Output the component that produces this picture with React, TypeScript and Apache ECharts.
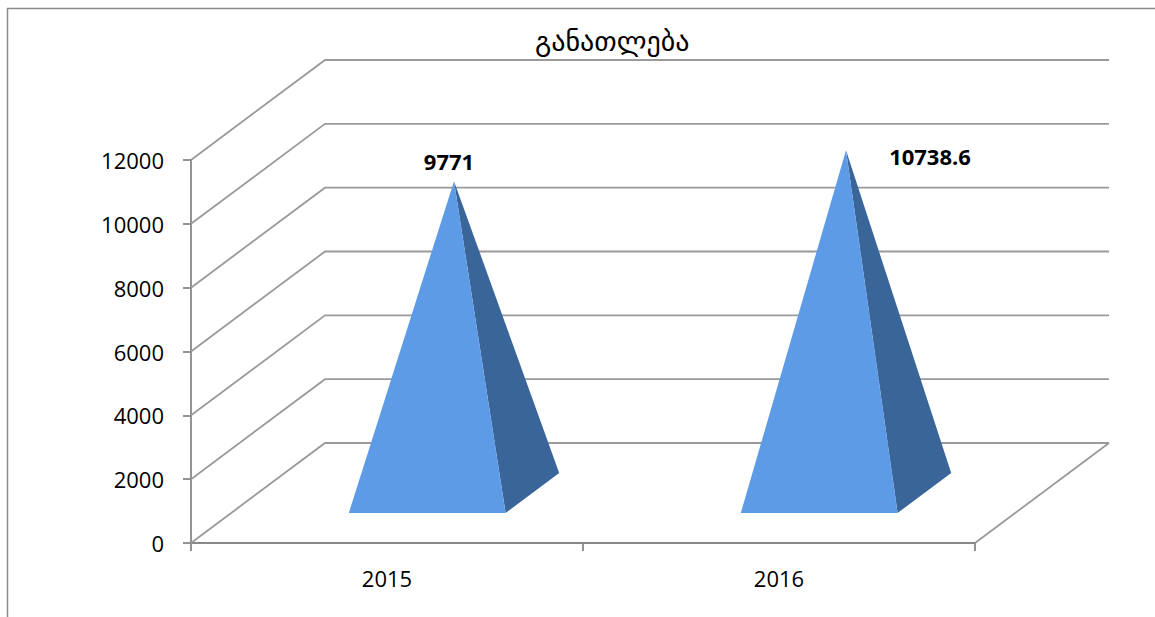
import React, { useEffect, useRef } from "react";
import * as echarts from "echarts";

const titleText = "განათლება";
const categories = ["2015", "2016"];
const values = [9771, 10738.6];
const valueLabels = ["9771", "10738.6"];
const yTicks = [0, 2000, 4000, 6000, 8000, 10000, 12000];

// styling constants (not data)
const DX = 134;
const DY = -100;
const LABEL_OFFSETS = [
  [-5, -20],
  [84, 6],
];
const GRID_COLOR = "#9a9a9a";
const AXIS_COLOR = "#888888";
const FRONT_COLOR = "#5E9BE7";
const SIDE_COLOR = "#3A6599";

export default function App() {
  const ref = useRef<HTMLDivElement>(null);
  useEffect(() => {
    if (!ref.current) return;
    const chart = echarts.init(ref.current, null, { renderer: "svg" });
    const option: any = {
      animation: false,
      backgroundColor: "#ffffff",
      title: {
        text: titleText,
        left: 530,
        top: 22,
        textStyle: {
          fontFamily: "DejaVu Sans",
          fontSize: 28,
          fontWeight: "normal",
          color: "#000",
        },
      },
      graphic: [
        {
          type: "rect",
          shape: { x: 7.5, y: 8.5, width: 1160, height: 640 },
          style: { fill: "none", stroke: "#8a8a8a", lineWidth: 1.5 },
          silent: true,
          z: 0,
        },
      ],
      grid: { left: 191, right: 180, top: 160, bottom: 74 },
      xAxis: {
        type: "category",
        data: categories,
        boundaryGap: true,
        axisLine: { show: true, lineStyle: { color: AXIS_COLOR, width: 1.8 } },
        axisTick: { show: true, length: 8, lineStyle: { color: AXIS_COLOR, width: 1.8 } },
        axisLabel: {
          margin: 24,
          fontFamily: "Open Sans",
          fontSize: 22,
          color: "#000",
        },
        splitLine: { show: false },
      },
      yAxis: {
        type: "value",
        min: 0,
        max: 12000,
        interval: 2000,
        axisLine: { show: true, lineStyle: { color: AXIS_COLOR, width: 1.8 } },
        axisTick: { show: true, length: 8, lineStyle: { color: AXIS_COLOR, width: 1.8 } },
        axisLabel: {
          margin: 27,
          fontFamily: "Open Sans",
          fontSize: 22,
          color: "#000",
          formatter: (v: number) => String(v),
        },
        splitLine: { show: false },
      },
      series: [
        {
          type: "custom",
          clip: false,
          silent: true,
          z: 1,
          data: yTicks.map((v) => [0, v]),
          renderItem: (params: any, api: any) => {
            const cs = params.coordSys;
            const v = api.value(1);
            const y = api.coord([0, v])[1];
            const x0 = cs.x;
            const x1 = cs.x + cs.width;
            const children: any[] = [
              {
                type: "polyline",
                shape: {
                  points: [
                    [x0, y],
                    [x0 + DX, y + DY],
                    [x1 + DX, y + DY],
                  ],
                },
                style: { stroke: GRID_COLOR, lineWidth: 1.8, fill: "none" },
              },
            ];
            if (v === 0) {
              children.push({
                type: "line",
                shape: { x1: x1, y1: y, x2: x1 + DX, y2: y + DY },
                style: { stroke: GRID_COLOR, lineWidth: 1.8 },
              });
            }
            return { type: "group", children };
          },
        },
        {
          type: "custom",
          clip: false,
          silent: true,
          z: 5,
          data: values.map((v, i) => [i, v]),
          renderItem: (params: any, api: any) => {
            const idx = api.value(0);
            const v = api.value(1);
            const base = api.coord([idx, 0]);
            const top = api.coord([idx, v]);
            const band = api.size([1, 0])[0];
            const w = band * 0.2;
            const f0 = 0.3;
            const f1 = 0.7;
            const cx = base[0];
            const y0 = base[1];
            const fl = [cx - w + f0 * DX, y0 + f0 * DY];
            const fr = [cx + w + f0 * DX, y0 + f0 * DY];
            const br = [cx + w + f1 * DX, y0 + f1 * DY];
            const apex = [cx + 0.5 * DX, top[1] + 0.5 * DY];
            const off = LABEL_OFFSETS[params.dataIndex] || [0, -20];
            return {
              type: "group",
              children: [
                {
                  type: "polygon",
                  shape: { points: [fr, br, apex] },
                  style: { fill: SIDE_COLOR },
                },
                {
                  type: "polygon",
                  shape: { points: [fl, fr, apex] },
                  style: { fill: FRONT_COLOR },
                },
                {
                  type: "text",
                  x: apex[0] + off[0],
                  y: apex[1] + off[1],
                  style: {
                    text: valueLabels[params.dataIndex],
                    fill: "#000",
                    fontFamily: "Open Sans",
                    fontWeight: "bold",
                    fontSize: 22,
                    textAlign: "center",
                    textVerticalAlign: "middle",
                  },
                },
              ],
            };
          },
        },
      ],
    };
    chart.setOption(option);
    return () => chart.dispose();
  }, []);
  return (
    <div
      ref={ref}
      style={{ position: "fixed", left: 0, top: 0, width: 1155, height: 617 }}
    />
  );
}
